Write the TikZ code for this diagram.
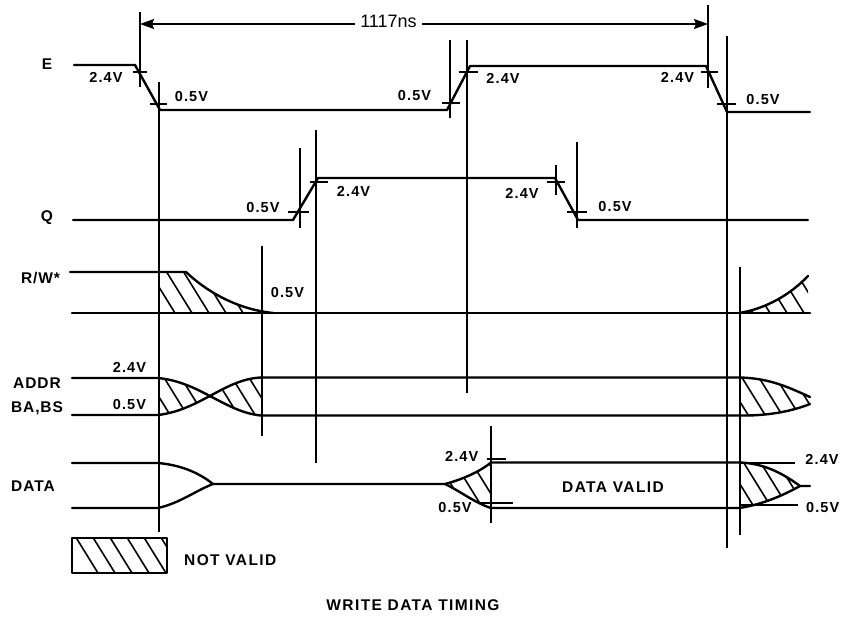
\documentclass[tikz,border=0pt]{standalone}
\usepackage{fontspec}
\setmainfont{Liberation Sans}
\usetikzlibrary{arrows.meta}
\tikzstyle{signal} = [line width=2.4pt, line cap=round, line join=round]
\tikzstyle{guide} = [line width=2pt]
\tikzstyle{tick} = [line width=2pt]
\tikzstyle{hatchline} = [line width=1.6pt]
\tikzstyle{level} = [font=\bfseries\fontsize{14.5}{14.5}\selectfont\addfontfeature{LetterSpace=8}, inner sep=0pt]
\tikzstyle{signame} = [font=\bfseries\fontsize{15.5}{15.5}\selectfont\addfontfeature{LetterSpace=6}, inner sep=0pt]
\tikzstyle{title} = [font=\bfseries\fontsize{15.5}{15.5}\selectfont\addfontfeature{LetterSpace=9}, inner sep=0pt]
\tikzstyle{arrow} = [line width=2pt,-{Stealth[length=14pt,width=10pt,inset=2pt]}]
\newcommand{\hatchfill}[1]{\begin{scope}
    \clip #1;
    \foreach \x in {-102,-85,...,860} \draw [hatchline] (\x,250) -- +(200,323);
\end{scope}}

\begin{document}
\begin{tikzpicture}[x=1pt,y=-1pt]
    \useasboundingbox (0,0) rectangle (842,616);

    % Hatched regions
    \hatchfill{(158,272) -- (186,272) .. controls (205,290) and (235,309) .. (273,313) -- (158,313) -- cycle}
    \hatchfill{(739,313) .. controls (765,309) and (790,295) .. (808,276) -- (808,313) -- cycle}
    \hatchfill{(158,378) .. controls (185,380) and (195,392) .. (212,397) .. controls (195,404) and (180,413) .. (158,415) -- cycle}
    \hatchfill{(261,378) .. controls (240,378) and (225,390) .. (212,397) .. controls (225,404) and (240,412) .. (261,415) -- cycle}
    \hatchfill{(739,377) .. controls (770,378) and (790,388) .. (810,397) -- (810,404) .. controls (790,412) and (765,416) .. (739,416) -- cycle}
    \hatchfill{(445,484) .. controls (460,480) and (478,473) .. (491,463) -- (491,506) .. controls (475,503) and (460,491) .. (445,484) -- cycle}
    \hatchfill{(739,462) .. controls (765,463) and (785,475) .. (800,486) -- (760,505) -- (739,508) -- cycle}
    \hatchfill{(72,538) rectangle (167,573)}

    % Guides
    \draw [guide] (140,12) -- (140,87);
    \draw [guide] (158.5,82) -- (158.5,532);
    \draw [guide] (300,148) -- (300,228);
    \draw [guide] (315.5,130) -- (315.5,463);
    \draw [guide] (261.5,246) -- (261.5,436);
    \draw [guide] (450,40) -- (450,118);
    \draw [guide] (466.5,40) -- (466.5,393);
    \draw [guide] (556,165) -- (556,195);
    \draw [guide] (577,142) -- (577,228);
    \draw [guide] (491,426) -- (491,523);
    \draw [guide] (708,5) -- (708,88);
    \draw [guide] (726.5,36) -- (726.5,548);
    \draw [guide] (739.5,267) -- (739.5,535);

    % Ticks
    \foreach \xa/\xb/\ya in {133/147/72, 150/167/104, 442/460/103, 459/478/72, 701/718/72, 717/736/104,
        288/309/212, 310/328/182, 547/565/182, 567/587/212, 487/506/459, 478/513/503}
        \draw [tick] (\xa,\ya) -- (\xb,\ya);

    % Waveforms
    \draw [signal] (74,65) -- (135,65) -- (160,110) -- (447,110) -- (470,66) -- (706,66) -- (727,112) -- (810,112);
    \draw [signal] (73,220) -- (293,220) -- (318,178) -- (555,178) -- (578,220) -- (808,220);
    \draw [signal] (70,272) -- (186,272) .. controls (205,290) and (235,309) .. (273,313);
    \draw [signal] (72,313) -- (810,313);
    \draw [signal] (739,313) .. controls (765,309) and (790,295) .. (808,276);
    \draw [signal] (72,378) -- (158,378) .. controls (200,382) and (225,412) .. (261,415.5) -- (739,415.5) .. controls (765,416) and (790,412) .. (810,404);
    \draw [signal] (72,415) -- (158,415) .. controls (200,410) and (225,379) .. (261,377.5) -- (739,377.5) .. controls (770,378) and (790,388) .. (810,397);
    \draw [signal] (72,463) -- (158,463) .. controls (180,465) and (198,472) .. (213,484) .. controls (195,491) and (180,503) .. (158,508) -- (72,508);
    \draw [signal] (213,484) -- (445,484) .. controls (460,480) and (478,473) .. (491,462.5) -- (739,462.5) .. controls (765,463) and (785,475) .. (800,486) -- (810,486);
    \draw [signal] (445,484) .. controls (460,491) and (475,503) .. (491,508) -- (739,508) .. controls (760,505) and (780,497) .. (800,486);
    \draw [tick] (739,462.5) -- (795,462.5);
    \draw [tick] (739,505) -- (798,505);

    % Legend
    \draw [signal] (72,538) rectangle (167,573);
    \node (notvalid) [title, anchor=west] at (184,560) {NOT VALID};

    % Period
    \node (period) [inner sep=5pt, font=\fontsize{18}{18}\selectfont] at (388.5,21) {1117ns};
    \coordinate (periodstart) at (140,24);
    \coordinate (periodend) at (708,24);
    \draw [arrow] (period.west |- periodstart) -- (periodstart);
    \draw [arrow] (period.east |- periodend) -- (periodend);

    % Signal names
    \node (nameE) [signame] at (47,64) {E};
    \node (nameQ) [signame] at (47,218) {Q};
    \node (nameRW) [signame] at (40.5,278) {R/W*};
    \node (nameADDR) [signame] at (37,383) {ADDR};
    \node (nameBA) [signame] at (37,408) {BA,BS};
    \node (nameDATA) [signame] at (33,486) {DATA};

    % Level labels
    \node (eA) [level] at (106,77) {2.4V};
    \node (eB) [level] at (191.5,97) {0.5V};
    \node (eC) [level] at (414.5,96) {0.5V};
    \node (eD) [level] at (503,78) {2.4V};
    \node (eE) [level] at (677.5,77) {2.4V};
    \node (eF) [level] at (763,100) {0.5V};
    \node (qA) [level] at (263,208) {0.5V};
    \node (qB) [level] at (353.5,191.5) {2.4V};
    \node (qC) [level] at (522,193) {2.4V};
    \node (qD) [level] at (615,207) {0.5V};
    \node (rwA) [level] at (287.5,293) {0.5V};
    \node (addrA) [level] at (129.5,367) {2.4V};
    \node (addrB) [level] at (129.5,404) {0.5V};
    \node (dataA) [level] at (461.7,456) {2.4V};
    \node (dataB) [level] at (455,507.5) {0.5V};
    \node (dataC) [level] at (822,459) {2.4V};
    \node (dataD) [level] at (822.7,507) {0.5V};
    \node (datavalid) [title] at (613,487) {DATA VALID};

    \node (caption) [title] at (413,605) {WRITE DATA TIMING};
\end{tikzpicture}
\end{document}
